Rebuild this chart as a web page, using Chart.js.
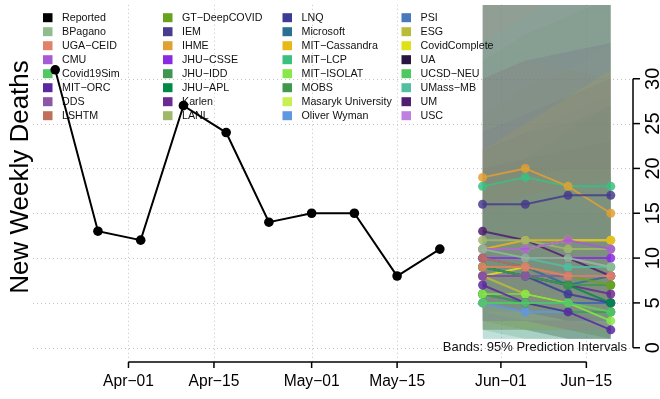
<!DOCTYPE html>
<html>
<head>
<meta charset="utf-8">
<script src="https://cdn.jsdelivr.net/npm/chart.js@4/dist/chart.umd.min.js"></script>
<style>
  html, body { margin: 0; padding: 0; background: #fff; }
  #wrap { width: 660px; height: 399px; }
</style>
</head>
<body>
<div id="wrap"><canvas id="chart" width="660" height="399"></canvas></div>
<script>
const FONT = '"Liberation Sans", Arial, Helvetica, sans-serif';

// Reported weekly deaths (week ending dates)
const reportedDates = ["2021-03-20", "2021-03-27", "2021-04-03", "2021-04-10", "2021-04-17",
  "2021-04-24", "2021-05-01", "2021-05-08", "2021-05-15", "2021-05-22"];
const reportedDeaths = [31, 13, 12, 27, 24, 14, 15, 15, 8, 11];

const forecastDates = ["2021-05-29", "2021-06-05", "2021-06-12", "2021-06-19"];

const models = ["BPagano", "UGA\u2212CEID", "CMU", "Covid19Sim", "MIT\u2212ORC", "DDS", "LSHTM",
  "GT\u2212DeepCOVID", "IEM", "IHME", "JHU\u2212CSSE", "JHU\u2212IDD", "JHU\u2212APL", "Karlen", "LANL",
  "LNQ", "Microsoft", "MIT\u2212Cassandra", "MIT\u2212LCP", "MIT\u2212ISOLAT", "MOBS", "Masaryk University",
  "Oliver Wyman", "PSI", "ESG", "CovidComplete", "UA", "UCSD\u2212NEU", "UMass\u2212MB", "UM", "USC"];

const modelColors = ["#8fbc8f", "#e0826a", "#a65ad6", "#52c864", "#5a28a0", "#8c55a5", "#c0705a",
  "#6aa21e", "#483c8c", "#e0a032", "#8a2be2", "#409650", "#008a46", "#6a2a90", "#a0b86a",
  "#3c3c96", "#2a7090", "#e8b818", "#3cc080", "#88e848", "#40984c", "#c8f050",
  "#6098e0", "#4a78bc", "#b8bc38", "#e0e018", "#2a1440", "#50c860", "#50c0a0", "#501e6e", "#c080e0"];

// point forecasts, one row per model
const pointForecast = [
  [11, 10, 10, 9], [9, 9, 8, 8], [11, 11, 12, 11], [5, 5, 5, 4], [7, 5, 4, 2], [8, 8, 8, 8], [10, 9, 8, 8],
  [9, 9, 8, 7], [16, 16, 17, 17], [19, 20, 18, 15], [10, 10, 10, 10], [9, 8, 7, 7], [9, 8, 7, 5], [8, 8, 7, 6], [12, 12, 11, 11],
  [9, 8, 6, 5], [10, 9, 7, 8], [11, 12, 12, 12], [18, 19, 18, 18], [6, 6, 5, 3], [6, 5, 4, 4], [11, 11, 12, 12],
  [5, 4, 4, 4], [6, 5, 5, 5], [8, 6, 5, 4], [8, 9, 8, 8], [6, 6, 5, 5], [5, 5, 4, 4], [10, 10, 9, 9], [13, 12, 10, 8], [10, 10, 10, 9]
];
// 95% prediction interval bounds
const lower95 = [
  [3, 2, 2, 1], [3, 3, 2, 2], [4, 4, 3, 3], [1, 1, 1, 1], [3, 2, 1, 1], [2, 2, 2, 1], [2, 2, 1, 1],
  [3, 2, 2, 1], [7, 6, 6, 5], [11, 11, 9, 7], [3, 3, 2, 2], [2, 1, 1, 1], [2, 2, 1, 1], [3, 3, 2, 2], [5, 4, 4, 3],
  [3, 3, 2, 1], [4, 4, 3, 3], [5, 5, 4, 4], [9, 9, 8, 8], [2, 2, 1, 1], [2, 1, 1, 1], [4, 3, 3, 3],
  [1, 1, 1, 1], [1, 1, 1, 1], [3, 2, 2, 1], [2, 2, 2, 2], [2, 2, 1, 1], [1, 1, 1, 1], [3, 3, 3, 2], [5, 4, 3, 3], [3, 3, 2, 2]
];
const upper95 = [
  [40, 42, 44, 46], [22, 24, 26, 28], [22, 24, 26, 28], [18, 21, 24, 27], [16, 16, 15, 15], [24, 26, 28, 30], [40, 42, 44, 46],
  [40, 42, 44, 46], [42, 44, 46, 48], [30, 32, 31, 30], [24, 26, 28, 30], [32, 35, 37, 39], [40, 42, 44, 46], [40, 42, 44, 46], [26, 29, 31, 34],
  [20, 21, 22, 23], [22, 24, 25, 27], [22, 25, 28, 31], [40, 42, 44, 46], [18, 19, 20, 20], [40, 42, 44, 46], [40, 42, 44, 46],
  [16, 17, 18, 19], [40, 42, 44, 46], [40, 42, 44, 46], [22, 25, 28, 31], [40, 42, 44, 46], [15, 17, 18, 19], [34, 37, 40, 43], [30, 32, 33, 34], [40, 42, 44, 46]
];

const xTickDates = ["2021-04-01", "2021-04-15", "2021-05-01", "2021-05-15", "2021-06-01", "2021-06-15"];
const xTickLabels = ["Apr\u221201", "Apr\u221215", "May\u221201", "May\u221215", "Jun\u221201", "Jun\u221215"];
const yTicks = [0, 5, 10, 15, 20, 25, 30];

const toDay = (s) => Date.parse(s + "T00:00:00Z") / 86400000;

function rgba(hex, a) {
  const n = parseInt(hex.slice(1), 16);
  return `rgba(${(n >> 16) & 255}, ${(n >> 8) & 255}, ${n & 255}, ${a})`;
}

// datasets: bands at the bottom (later models on top), then forecasts, reported on top
const datasets = [];
models.forEach((m, i) => {
  const lowIdx = datasets.length;
  const ord = 100 + models.length - i;
  datasets.push({
    kind: "band",
    data: forecastDates.map((d, k) => ({ x: toDay(d), y: lower95[i][k] })),
    borderWidth: 0, pointRadius: 0, fill: false, order: ord,
  });
  datasets.push({
    kind: "band",
    data: forecastDates.map((d, k) => ({ x: toDay(d), y: upper95[i][k] })),
    borderWidth: 0, pointRadius: 0, fill: lowIdx, order: ord,
    backgroundColor: rgba(modelColors[i], 0.11),
  });
});
models.forEach((m, i) => {
  datasets.push({
    kind: "forecast",
    label: m,
    data: forecastDates.map((d, k) => ({ x: toDay(d), y: pointForecast[i][k] })),
    borderColor: rgba(modelColors[i], 0.85),
    backgroundColor: rgba(modelColors[i], 0.85),
    pointBackgroundColor: rgba(modelColors[i], 0.85),
    borderWidth: 2, pointRadius: 4.5, pointBorderWidth: 0, order: 1,
  });
});
datasets.push({
  kind: "reported",
  label: "Reported",
  data: reportedDates.map((d, k) => ({ x: toDay(d), y: reportedDeaths[k] })),
  borderColor: "#000", backgroundColor: "#000", pointBackgroundColor: "#000",
  borderWidth: 2, pointRadius: 4.8, pointBorderWidth: 0, order: 0,
});

const first = toDay(reportedDates[0]);
const last = toDay(forecastDates[forecastDates.length - 1]);
const pad = (last - first) * 0.04;

let legendDone = false;

function drawLegend(ctx) {
  const names = ["Reported"].concat(models);
  const cols = ["#000000"].concat(modelColors);
  const colX = [43, 163, 282.5, 401.5];
  ctx.save();
  ctx.font = "10.7px " + FONT;
  ctx.textBaseline = "middle";
  names.forEach((n, i) => {
    const c = Math.floor(i / 8), r = i % 8;
    const cy = 17.7 + r * 14;
    ctx.fillStyle = cols[i];
    ctx.fillRect(colX[c], cy - 4.5, 9.5, 9);
    ctx.fillStyle = "#111";
    ctx.fillText(n, colX[c] + 19, cy + 0.5);
  });
  ctx.restore();
}

const rStyle = {
  id: "rStyle",
  beforeDatasetsDraw(chart) {
    const { ctx, chartArea: a, scales: { x, y } } = chart;
    ctx.save();
    ctx.strokeStyle = "#c4c4c4";
    ctx.lineWidth = 1;
    ctx.setLineDash([1, 3]);
    yTicks.forEach((v) => {
      const py = Math.round(y.getPixelForValue(v)) + 0.5;
      ctx.beginPath(); ctx.moveTo(a.left, py); ctx.lineTo(a.right, py); ctx.stroke();
    });
    xTickDates.forEach((d) => {
      const px = Math.round(x.getPixelForValue(toDay(d))) + 0.5;
      ctx.beginPath(); ctx.moveTo(px, a.top); ctx.lineTo(px, a.bottom); ctx.stroke();
    });
    ctx.restore();
    legendDone = false;
  },
  beforeDatasetDraw(chart, args) {
    if (!legendDone && chart.data.datasets[args.index].kind !== "band") {
      drawLegend(chart.ctx);
      legendDone = true;
    }
  },
  afterDraw(chart) {
    const { ctx, chartArea: a, scales: { x, y } } = chart;
    ctx.save();
    ctx.strokeStyle = "#000";
    ctx.fillStyle = "#000";
    ctx.lineWidth = 1.5;
    // x axis
    const xs = xTickDates.map((d) => x.getPixelForValue(toDay(d)));
    const ay = a.bottom;
    ctx.beginPath(); ctx.moveTo(xs[0], ay); ctx.lineTo(xs[xs.length - 1], ay); ctx.stroke();
    ctx.font = "15.6px " + FONT;
    ctx.textAlign = "center";
    ctx.textBaseline = "middle";
    xs.forEach((px, i) => {
      ctx.beginPath(); ctx.moveTo(px, ay); ctx.lineTo(px, ay + 6); ctx.stroke();
      ctx.fillText(xTickLabels[i], px, ay + 19.5);
    });
    // y axis on the right
    const ax = a.right;
    ctx.beginPath(); ctx.moveTo(ax, y.getPixelForValue(0)); ctx.lineTo(ax, y.getPixelForValue(30)); ctx.stroke();
    ctx.font = "20px " + FONT;
    yTicks.forEach((v) => {
      const py = y.getPixelForValue(v);
      ctx.beginPath(); ctx.moveTo(ax, py); ctx.lineTo(ax + 7, py); ctx.stroke();
      ctx.save();
      ctx.translate(ax + 20, py);
      ctx.rotate(-Math.PI / 2);
      ctx.fillText(String(v), 0, 0);
      ctx.restore();
    });
    // y title
    ctx.save();
    ctx.font = "26px " + FONT;
    ctx.translate(21, 177);
    ctx.rotate(-Math.PI / 2);
    ctx.fillText("New Weekly Deaths", 0, 0);
    ctx.restore();
    // band note
    ctx.font = "13px " + FONT;
    ctx.textAlign = "right";
    ctx.fillStyle = "#111";
    ctx.fillText("Bands: 95% Prediction Intervals", 627, 347);
    ctx.restore();
  },
};

new Chart(document.getElementById("chart"), {
  type: "line",
  data: { datasets },
  options: {
    responsive: false,
    animation: false,
    events: [],
    layout: { padding: { left: 33, right: 27, top: 0, bottom: 37 } },
    scales: {
      x: { type: "linear", display: false, min: first - pad, max: last + pad },
      y: { type: "linear", display: false, min: -1.59, max: 38.25 },
    },
    plugins: { legend: { display: false }, tooltip: { enabled: false } },
  },
  plugins: [rStyle],
});
</script>
</body>
</html>
